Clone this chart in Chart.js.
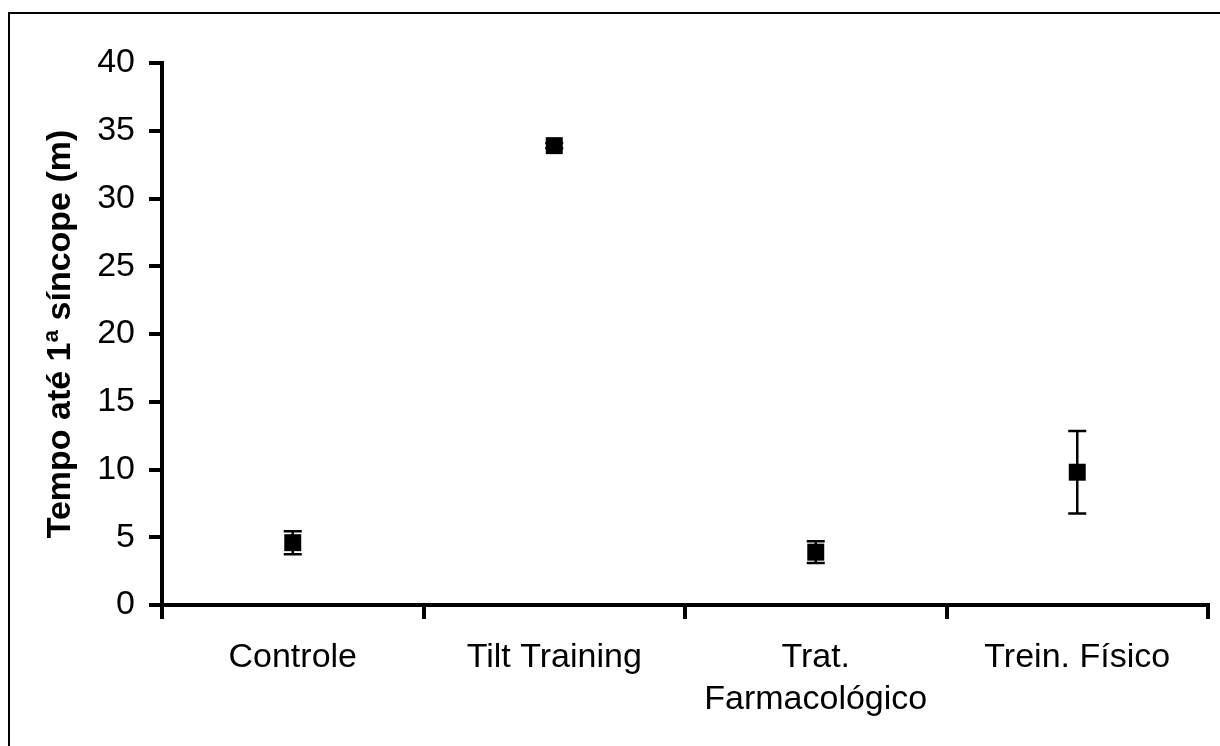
<!DOCTYPE html>
<html>
<head>
<meta charset="utf-8">
<script src="https://cdn.jsdelivr.net/npm/chart.js@4"></script>
<style>
  html, body { margin: 0; padding: 0; background: #fff; }
  #wrap { position: absolute; left: 0; top: 0; width: 1220px; height: 746px; }
</style>
</head>
<body>
<div id="wrap"><canvas id="chart" width="1220" height="746"></canvas></div>
<script>
const categories = ['Controle', 'Tilt Training', ['Trat.', 'Farmacológico'], 'Trein. Físico'];
const means = [4.6, 33.9, 3.9, 9.8];
const errors = [0.85, 0.2, 0.8, 3.05];
const yTitle = 'Tempo até 1ª síncope (m)';

// vertical error bars with caps, drawn under the markers
const errorBars = {
    id: 'errorBars',
    beforeDatasetsDraw(chart) {
        const ctx = chart.ctx;
        const x = chart.scales.x, y = chart.scales.y;
        ctx.save();
        ctx.strokeStyle = '#000';
        ctx.lineWidth = 2.5;
        means.forEach((m, i) => {
            const px = x.getPixelForValue(i);
            const top = y.getPixelForValue(m + errors[i]);
            const bot = y.getPixelForValue(m - errors[i]);
            ctx.beginPath();
            ctx.moveTo(px, top); ctx.lineTo(px, bot);
            ctx.moveTo(px - 9, top); ctx.lineTo(px + 9, top);
            ctx.moveTo(px - 9, bot); ctx.lineTo(px + 9, bot);
            ctx.stroke();
        });
        ctx.restore();
    }
};

// outer frame of the picture
const frame = {
    id: 'frame',
    beforeDraw(chart) {
        const ctx = chart.ctx;
        ctx.save();
        ctx.fillStyle = '#fff';
        ctx.fillRect(0, 0, chart.width, chart.height);
        ctx.strokeStyle = '#000';
        ctx.lineWidth = 2;
        ctx.beginPath();
        ctx.moveTo(9, chart.height);
        ctx.lineTo(9, 13);
        ctx.lineTo(chart.width, 13);
        ctx.stroke();
        ctx.restore();
    }
};

const font = { family: '"Liberation Sans", Arial, sans-serif', size: 34 };

new Chart(document.getElementById('chart'), {
    type: 'line',
    data: {
        labels: categories,
        datasets: [{
            data: means,
            showLine: false,
            pointStyle: 'rect',
            pointRadius: 12,
            pointHoverRadius: 12,
            backgroundColor: '#000',
            borderColor: '#000',
            borderWidth: 0
        }]
    },
    options: {
        responsive: false,
        animation: false,
        layout: { padding: { left: 40, top: 63, right: 5, bottom: 0 } },
        plugins: { legend: { display: false }, tooltip: { enabled: false } },
        scales: {
            x: {
                offset: true,
                afterFit: s => { s.height = 141; },
                border: { color: '#000', width: 4 },
                grid: { offset: true, drawOnChartArea: false, color: '#000', lineWidth: 4, tickLength: 14 },
                ticks: { color: '#000', font: { family: font.family, size: 34, lineHeight: 1.25 }, padding: 17, maxRotation: 0 }
            },
            y: {
                min: 0,
                max: 40,
                afterFit: s => { s.width = 122; },
                border: { color: '#000', width: 4 },
                grid: { drawOnChartArea: false, color: '#000', lineWidth: 4, tickLength: 13 },
                ticks: { stepSize: 5, color: '#000', font: font, padding: 14 },
                title: {
                    display: true,
                    text: yTitle,
                    color: '#000',
                    font: { family: font.family, size: 34, weight: 'bold' },
                    padding: 0
                }
            }
        }
    },
    plugins: [frame, errorBars]
});
</script>
</body>
</html>
